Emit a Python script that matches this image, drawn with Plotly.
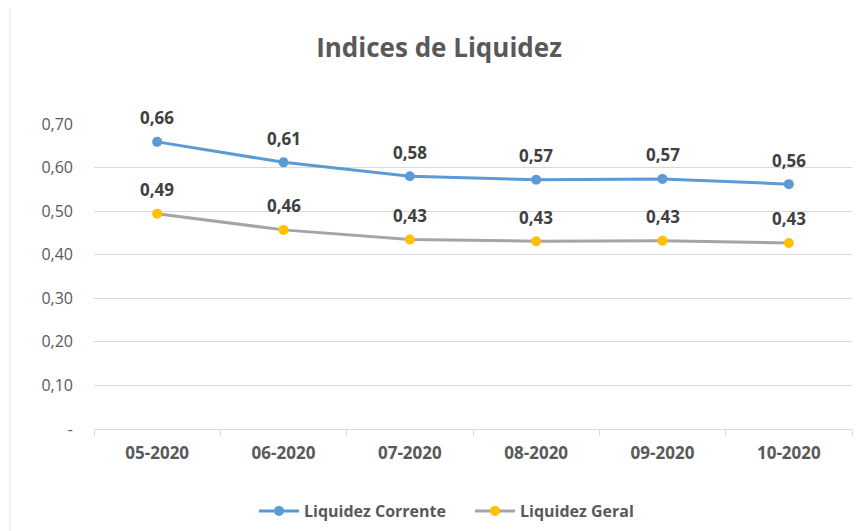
import plotly.graph_objects as go

categories = ["05-2020", "06-2020", "07-2020", "08-2020", "09-2020", "10-2020"]
corrente = [0.659, 0.612, 0.580, 0.572, 0.574, 0.562]
geral = [0.494, 0.457, 0.435, 0.431, 0.432, 0.427]
ytick_vals = [0, 0.1, 0.2, 0.3, 0.4, 0.5, 0.6, 0.7]
ytick_text = ["-", "0,10", "0,20", "0,30", "0,40", "0,50", "0,60", "0,70"]

font_family = "Open Sans, Noto Sans, DejaVu Sans, sans-serif"

def fmt(v):
    return f"{v:.2f}".replace(".", ",")

fig = go.Figure()
fig.add_trace(go.Scatter(
    x=categories, y=corrente, name="Liquidez Corrente",
    mode="lines+markers",
    line=dict(color="#5B9BD5", width=3),
    marker=dict(color="#5B9BD5", size=10),
    cliponaxis=False,
))
fig.add_trace(go.Scatter(
    x=categories, y=geral, name="Liquidez Geral",
    mode="lines+markers",
    line=dict(color="#A5A5A5", width=3),
    marker=dict(color="#FFC000", size=10),
    cliponaxis=False,
))

for series in (corrente, geral):
    for c, v in zip(categories, series):
        fig.add_annotation(x=c, y=v, text=f"<b>{fmt(v)}</b>", showarrow=False,
                           yshift=24, font=dict(size=17, color="#404040", family=font_family))

H = 531
fig.update_layout(
    width=862, height=H,
    margin=dict(l=86, r=18, t=116, b=109),
    paper_bgcolor="white", plot_bgcolor="white",
    title=dict(text="<b>Indices de Liquidez</b>", x=0.5, xanchor="center",
               y=1 - 40 / H, yanchor="middle",
               font=dict(size=26, color="#595959", family=font_family)),
    showlegend=True,
    legend=dict(orientation="h", x=(246 - 86) / 758, xanchor="left", y=-81 / 306, yanchor="middle",
                font=dict(size=16, color="#595959", family=font_family, weight="bold"),
                itemwidth=40, tracegroupgap=0, entrywidth=161),
    xaxis=dict(type="category", tickson="boundaries", ticks="outside", ticklen=6,
               tickcolor="#d9d9d9", showline=True, linecolor="#d9d9d9", linewidth=1,
               showgrid=False, range=[-0.5, 5.5], ticklabelstandoff=9,
               tickfont=dict(size=17, color="#595959", family=font_family, weight="bold")),
    yaxis=dict(range=[0, 0.7], tickvals=ytick_vals, ticktext=ytick_text,
               showgrid=True, gridcolor="#d9d9d9", gridwidth=1, zeroline=False,
               showline=False, ticks="", ticklabelstandoff=20,
               tickfont=dict(size=16, color="#595959", family=font_family)),
)
fig.add_shape(type="line", xref="paper", yref="paper", x0=-0.111, x1=-0.111, y0=-0.4, y1=1.4,
              line=dict(color="#e6e6e6", width=1))
fig.write_html("out.html")
